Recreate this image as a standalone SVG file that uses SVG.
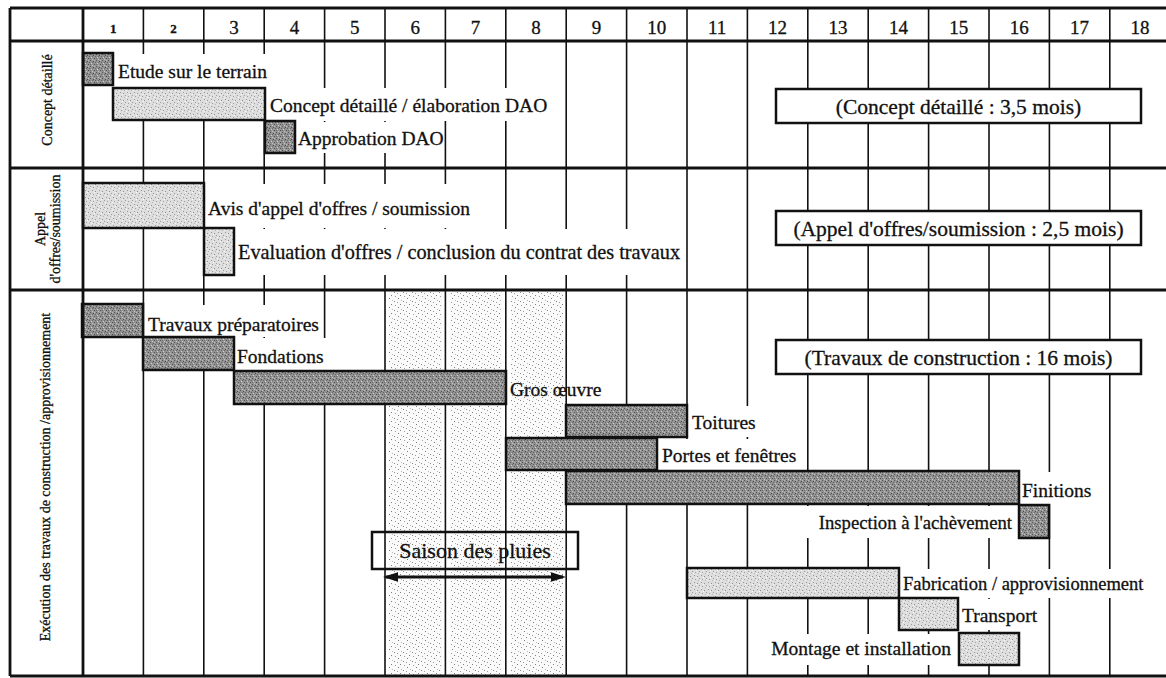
<svg xmlns="http://www.w3.org/2000/svg" width="1166" height="678" viewBox="0 0 1166 678">
<defs>
  <pattern id="pd" width="6" height="6" patternUnits="userSpaceOnUse" shape-rendering="crispEdges">
    <rect width="6" height="6" fill="#939393"/>
    <rect x="0" y="0" width="1" height="1" fill="#555"/>
    <rect x="3" y="1" width="1" height="1" fill="#4c4c4c"/>
    <rect x="1" y="3" width="1" height="1" fill="#cfcfcf"/>
    <rect x="4" y="4" width="1" height="1" fill="#525252"/>
    <rect x="2" y="5" width="1" height="1" fill="#c6c6c6"/>
    <rect x="5" y="2" width="1" height="1" fill="#626262"/>
    <rect x="0" y="4" width="1" height="1" fill="#6e6e6e"/>
    <rect x="4" y="0" width="1" height="1" fill="#bdbdbd"/>
    <rect x="2" y="2" width="1" height="1" fill="#6a6a6a"/>
  </pattern>
  <pattern id="pl" width="7" height="7" patternUnits="userSpaceOnUse" shape-rendering="crispEdges">
    <rect width="7" height="7" fill="#dedede"/>
    <rect x="1" y="1" width="1" height="1" fill="#999"/>
    <rect x="4" y="2" width="1" height="1" fill="#8e8e8e"/>
    <rect x="2" y="5" width="1" height="1" fill="#a0a0a0"/>
    <rect x="6" y="4" width="1" height="1" fill="#9c9c9c"/>
    <rect x="3" y="3" width="1" height="1" fill="#fafafa"/>
    <rect x="0" y="6" width="1" height="1" fill="#f6f6f6"/>
    <rect x="5" y="6" width="1" height="1" fill="#b4b4b4"/>
  </pattern>
  <pattern id="pr" width="9" height="9" patternUnits="userSpaceOnUse" shape-rendering="crispEdges">
    <rect width="9" height="9" fill="#fafafa"/>
    <rect x="2" y="1" width="1" height="1" fill="#7a7a7a"/>
    <rect x="7" y="4" width="1" height="1" fill="#888"/>
    <rect x="4" y="7" width="1" height="1" fill="#808080"/>
    <rect x="8" y="8" width="1" height="1" fill="#a0a0a0"/>
    <rect x="1" y="5" width="1" height="1" fill="#9a9a9a"/>
    <rect x="5" y="3" width="1" height="1" fill="#b8b8b8"/>
  </pattern>
  <marker id="ah" viewBox="0 0 5 3.2" markerWidth="5" markerHeight="3.2" refX="4" refY="1.6" orient="auto-start-reverse" markerUnits="strokeWidth">
    <path d="M0,0 L5,1.6 L0,3.2 z" fill="#111"/>
  </marker>
</defs>
<style>
  text{font-family:"Liberation Serif","Times New Roman",serif;fill:#111;stroke:#111;stroke-width:0.3}
  .lbl{font-size:19.5px}
  .bar{stroke:#111;stroke-width:2.5}
  .dk{fill:url(#pd)}
  .lt{fill:url(#pl)}
  .mask{fill:#fff}
  .grid line{stroke:#111;stroke-width:1.6}
  .frame line{stroke:#111;stroke-width:2.8}
  .side{font-size:14px;text-anchor:middle}
  .hd{font-size:19px;text-anchor:middle}
  .hds{font-size:13px;font-weight:bold;text-anchor:middle}
  .sumbox{fill:#fff;stroke:#111;stroke-width:2.5}
  .sum{font-size:21.5px;text-anchor:middle}
  .rain{fill:url(#pr)}
</style>
<rect width="1166" height="678" fill="#fff"/>

<g id="rain-shading">
  <rect class="rain" x="389" y="292" width="53" height="383"/>
  <rect class="rain" x="450" y="292" width="52" height="383"/>
  <rect class="rain" x="511" y="292" width="52" height="383"/>
</g>

<g id="grid" class="grid">
  <line x1="143.4" y1="8" x2="143.4" y2="676"/>
  <line x1="203.8" y1="8" x2="203.8" y2="676"/>
  <line x1="264.2" y1="8" x2="264.2" y2="676"/>
  <line x1="324.6" y1="8" x2="324.6" y2="676"/>
  <line x1="385" y1="8" x2="385" y2="676"/>
  <line x1="445.4" y1="8" x2="445.4" y2="676"/>
  <line x1="505.8" y1="8" x2="505.8" y2="676"/>
  <line x1="566.2" y1="8" x2="566.2" y2="676"/>
  <line x1="626.6" y1="8" x2="626.6" y2="676"/>
  <line x1="687" y1="8" x2="687" y2="676"/>
  <line x1="747.4" y1="8" x2="747.4" y2="676"/>
  <line x1="807.8" y1="8" x2="807.8" y2="676"/>
  <line x1="868.2" y1="8" x2="868.2" y2="676"/>
  <line x1="928.6" y1="8" x2="928.6" y2="676"/>
  <line x1="989" y1="8" x2="989" y2="676"/>
  <line x1="1049.4" y1="8" x2="1049.4" y2="676"/>
  <line x1="1109.8" y1="8" x2="1109.8" y2="676"/>
</g>

<g id="header">
  <text class="hds" x="113.2" y="33">1</text>
  <text class="hds" x="173.6" y="33">2</text>
  <text class="hd" x="234" y="34">3</text>
  <text class="hd" x="294.4" y="34">4</text>
  <text class="hd" x="354.8" y="34">5</text>
  <text class="hd" x="415.2" y="34">6</text>
  <text class="hd" x="475.6" y="34">7</text>
  <text class="hd" x="536" y="34">8</text>
  <text class="hd" x="596.4" y="34">9</text>
  <text class="hd" x="656.8" y="34">10</text>
  <text class="hd" x="717.2" y="34">11</text>
  <text class="hd" x="777.6" y="34">12</text>
  <text class="hd" x="838" y="34">13</text>
  <text class="hd" x="898.4" y="34">14</text>
  <text class="hd" x="958.8" y="34">15</text>
  <text class="hd" x="1019.2" y="34">16</text>
  <text class="hd" x="1079.6" y="34">17</text>
  <text class="hd" x="1140" y="34">18</text>
</g>

<g id="section-labels">
  <text class="side" transform="translate(52,100) rotate(-90)">Concept détaillé</text>
  <text class="side" transform="translate(45,229) rotate(-90)">Appel</text>
  <text class="side" transform="translate(60,229) rotate(-90)">d'offres/soumission</text>
  <text class="side" transform="translate(50,477) rotate(-90)">Exécution des travaux de construction /approvisionnement</text>
</g>

<g id="etude">
  <rect class="mask" x="115" y="54" width="160" height="33"/>
  <rect class="bar dk" x="83" y="53" width="30" height="32"/>
  <text class="lbl" x="118" y="78">Etude sur le terrain</text>
</g>
<g id="concept">
  <rect class="mask" x="267" y="88" width="290" height="33"/>
  <rect class="bar lt" x="113" y="88" width="152" height="32"/>
  <text class="lbl" x="270" y="112">Concept détaillé / élaboration DAO</text>
</g>
<g id="approbation">
  <rect class="mask" x="296" y="122" width="147" height="31"/>
  <rect class="bar dk" x="265" y="121" width="30" height="32"/>
  <text class="lbl" x="298" y="145">Approbation DAO</text>
</g>
<g id="avis">
  <rect class="mask" x="205" y="184" width="276" height="44"/>
  <rect class="bar lt" x="83" y="183" width="121" height="45"/>
  <text class="lbl" x="208" y="215">Avis d'appel d'offres / soumission</text>
</g>
<g id="evaluation">
  <rect class="mask" x="235" y="229" width="449" height="46"/>
  <rect class="bar lt" x="204" y="228" width="30" height="47"/>
  <text class="lbl" x="238" y="259" style="font-size:20.3px">Evaluation d'offres / conclusion du contrat des travaux</text>
</g>
<g id="travaux-preparatoires">
  <rect class="mask" x="145" y="305" width="177" height="32"/>
  <rect class="bar dk" x="82" y="304" width="61" height="33"/>
  <text class="lbl" x="148" y="331">Travaux préparatoires</text>
</g>
<g id="fondations">
  <rect class="mask" x="235" y="338" width="95" height="33"/>
  <rect class="bar dk" x="143" y="337" width="91" height="33"/>
  <text class="lbl" x="237" y="363">Fondations</text>
</g>
<g id="gros-oeuvre">
  <rect class="mask" x="567" y="375" width="40" height="28"/>
  <rect class="bar dk" x="234" y="371" width="272" height="33"/>
  <text class="lbl" x="510" y="396">Gros œuvre</text>
</g>
<g id="toitures">
  <rect class="mask" x="689" y="406" width="72" height="31"/>
  <rect class="bar dk" x="566" y="405" width="121" height="32"/>
  <text class="lbl" x="692" y="429">Toitures</text>
</g>
<g id="portes">
  <rect class="mask" x="659" y="439" width="141" height="31"/>
  <rect class="bar dk" x="506" y="438" width="151" height="32"/>
  <text class="lbl" x="662" y="462">Portes et fenêtres</text>
</g>
<g id="finitions">
  <rect class="mask" x="1020" y="472" width="78" height="32"/>
  <rect class="bar dk" x="566" y="471" width="453" height="33"/>
  <text class="lbl" x="1022" y="497">Finitions</text>
</g>
<g id="inspection">
  <rect class="mask" x="806" y="506" width="210" height="32"/>
  <rect class="bar dk" x="1019" y="505" width="30" height="33"/>
  <text class="lbl" x="1012" y="529" text-anchor="end" style="font-size:18.7px">Inspection à l'achèvement</text>
</g>
<g id="fabrication">
  <rect class="mask" x="900" y="569" width="258" height="29"/>
  <rect class="bar lt" x="687" y="568" width="212" height="30"/>
  <text class="lbl" x="903" y="590" style="font-size:18.5px">Fabrication / approvisionnement</text>
</g>
<g id="transport">
  <rect class="mask" x="960" y="599" width="82" height="31"/>
  <rect class="bar lt" x="899" y="598" width="59" height="32"/>
  <text class="lbl" x="962" y="622">Transport</text>
</g>
<g id="montage">
  <rect class="mask" x="767" y="634" width="187" height="31"/>
  <rect class="bar lt" x="959" y="633" width="60" height="32"/>
  <text class="lbl" x="951" y="655" text-anchor="end">Montage et installation</text>
</g>

<g id="summary-concept">
  <rect class="sumbox" x="776" y="89" width="365" height="34"/>
  <text class="sum" x="958.5" y="114">(Concept détaillé : 3,5 mois)</text>
</g>
<g id="summary-appel">
  <rect class="sumbox" x="776" y="211" width="365" height="34"/>
  <text class="sum" x="958.5" y="236">(Appel d'offres/soumission : 2,5 mois)</text>
</g>
<g id="summary-travaux">
  <rect class="sumbox" x="776" y="340" width="365" height="34"/>
  <text class="sum" x="958.5" y="365">(Travaux de construction : 16 mois)</text>
</g>

<g id="saison-des-pluies">
  <rect x="372" y="532" width="206" height="37" fill="none" stroke="#111" stroke-width="2.5"/>
  <text x="475" y="558" text-anchor="middle" style="font-size:22px">Saison des pluies</text>
</g>

<g id="connectors">
  <line x1="386" y1="577" x2="563" y2="577" stroke="#111" stroke-width="3" marker-start="url(#ah)" marker-end="url(#ah)"/>
</g>

<g id="frame" class="frame">
  <line x1="10" y1="8" x2="1166" y2="8"/>
  <line x1="10" y1="41" x2="1166" y2="41" style="stroke-width:3.2"/>
  <line x1="10" y1="168" x2="1166" y2="168"/>
  <line x1="10" y1="290" x2="1166" y2="290"/>
  <line x1="10" y1="676" x2="1166" y2="676"/>
  <line x1="10" y1="8" x2="10" y2="676"/>
  <line x1="83" y1="8" x2="83" y2="676"/>
</g>
</svg>
